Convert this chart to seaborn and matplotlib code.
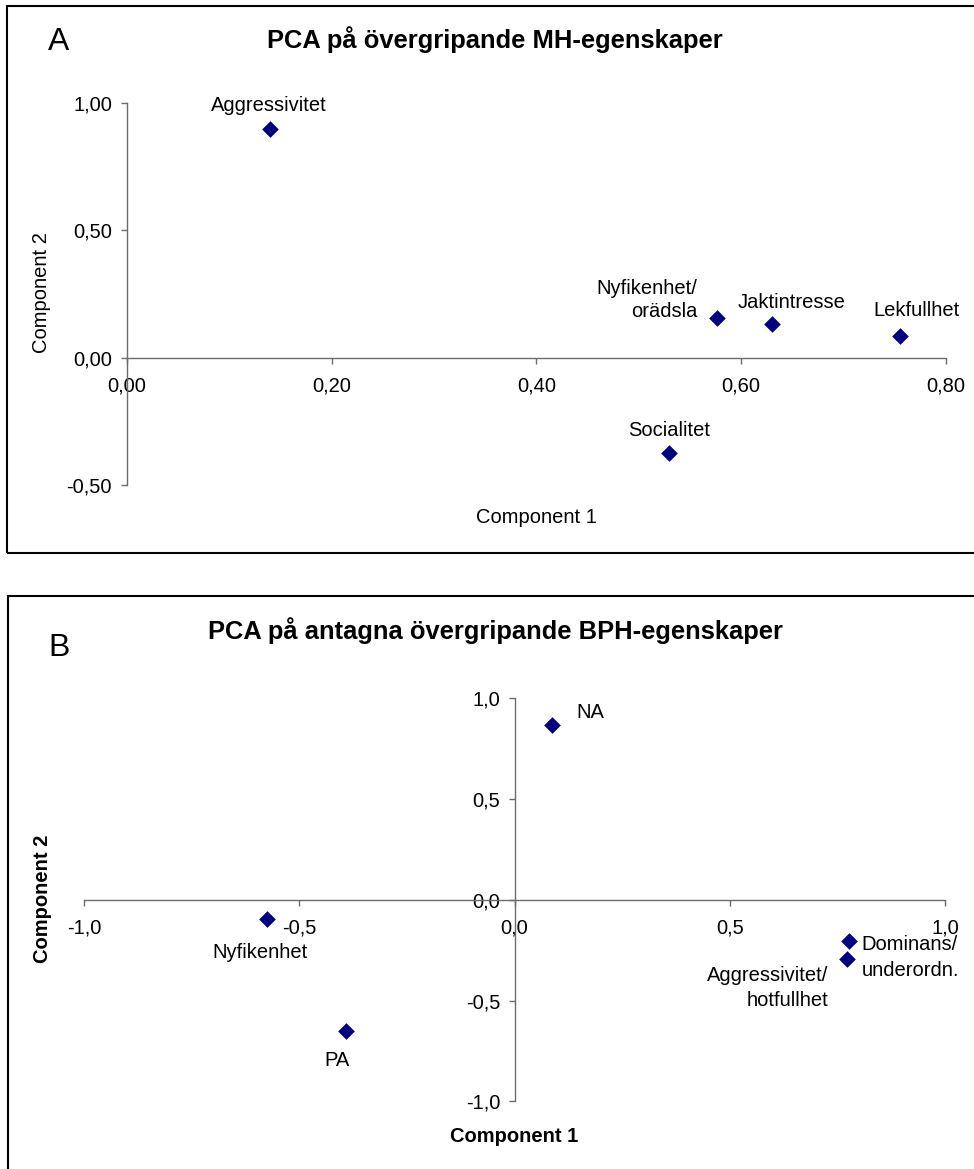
import matplotlib
matplotlib.use("Agg")
import matplotlib.pyplot as plt
import seaborn as sns
import pandas as pd
from matplotlib.patches import Rectangle

# ---------------- data ----------------
a_labels = ["Aggressivitet", "Nyfikenhet/\norädsla", "Jaktintresse", "Lekfullhet", "Socialitet"]
a_comp1 = [0.14, 0.576, 0.630, 0.755, 0.530]
a_comp2 = [0.897, 0.156, 0.131, 0.086, -0.374]

b_labels = ["NA", "Nyfikenhet", "PA", "Dominans/\nunderordn.", "Aggressivitet/\nhotfullhet"]
b_comp1 = [0.086, -0.575, -0.392, 0.776, 0.771]
b_comp2 = [0.867, -0.095, -0.651, -0.205, -0.291]

a_xticks = [0.0, 0.2, 0.4, 0.6, 0.8]
a_yticks = [-0.5, 0.0, 0.5, 1.0]
b_ticks = [-1.0, -0.5, 0.0, 0.5, 1.0]

sns.set_theme(style="white")
plt.rcParams['font.family'] = ['Liberation Sans', 'DejaVu Sans']
plt.rcParams['text.color'] = 'black'
plt.rcParams['axes.labelcolor'] = 'black'
plt.rcParams['xtick.color'] = 'black'
plt.rcParams['ytick.color'] = 'black'

W, H = 974, 1169
fig = plt.figure(figsize=(W / 100, H / 100), dpi=100)

AX_COL = '#6b6b6b'
MK_COL = '#000080'
FS = 14.5
TFS = 18.4


def fx(px):
    return px / W


def fy(py):
    return 1 - py / H


# frames
fig.patches.append(Rectangle((fx(7), fy(553)), fx(980 - 7), fy(6) - fy(553),
                             transform=fig.transFigure, fill=False, edgecolor='black', linewidth=1.5))
fig.patches.append(Rectangle((fx(8), fy(1180)), fx(980 - 8), fy(596) - fy(1180),
                             transform=fig.transFigure, fill=False, edgecolor='black', linewidth=1.5))


def style_axes(ax, fmt):
    for s in ['top', 'right']:
        ax.spines[s].set_visible(False)
    ax.spines['left'].set_position(('data', 0))
    ax.spines['bottom'].set_position(('data', 0))
    for s in ['left', 'bottom']:
        ax.spines[s].set_color(AX_COL)
        ax.spines[s].set_linewidth(1.0)
    ax.tick_params(axis='both', direction='out', length=4.5, width=1.0, color=AX_COL,
                   labelsize=FS, labelcolor='black')
    ax.tick_params(axis='x', pad=9, bottom=True)
    ax.tick_params(axis='y', pad=6, left=True)
    ax.xaxis.set_major_formatter(plt.FuncFormatter(lambda v, p: fmt.format(v).replace('.', ',')))
    ax.yaxis.set_major_formatter(plt.FuncFormatter(lambda v, p: fmt.format(v).replace('.', ',')))
    ax.set_xlabel('')
    ax.set_ylabel('')
    ax.set_facecolor('none')
    ax.grid(False)


# ---------------- Panel A ----------------
axA = fig.add_axes([fx(126.7), fy(485), fx(946 - 126.7), fy(103.2) - fy(485)])
dfA = pd.DataFrame({"c1": a_comp1, "c2": a_comp2, "lab": a_labels})
sns.scatterplot(data=dfA, x="c1", y="c2", marker='D', s=72, color=MK_COL,
                edgecolor=MK_COL, linewidth=0, ax=axA, legend=False, zorder=3, clip_on=False)
axA.set_xlim(0, 0.8)
axA.set_ylim(-0.5, 1.0)
axA.set_xticks(a_xticks)
axA.set_yticks(a_yticks)
style_axes(axA, "{:.2f}")

a_off = [(-1, 17, 'center'), (-14, 13, 'right'), (14, 16, 'center'), (12, 18, 'center'), (0, 16, 'center')]
for (x, y, lab), (dx, dy, ha) in zip(zip(a_comp1, a_comp2, a_labels), a_off):
    axA.annotate(lab, (x, y), xytext=(dx, dy), textcoords='offset points', ha=ha, va='center',
                 fontsize=FS, multialignment=ha, linespacing=1.3, color='black')

axA.text(0.5, -0.084, "Component 1", transform=axA.transAxes, ha='center', va='center',
         fontsize=FS, color='black')
axA.text(-0.104, 0.503, "Component 2", transform=axA.transAxes, ha='center', va='center',
         fontsize=FS, rotation=90, color='black')
fig.text(fx(495), fy(40), "PCA på övergripande MH-egenskaper", ha='center', va='center',
         fontsize=TFS, fontweight='bold', color='black')
fig.text(fx(48), fy(42), "A", ha='left', va='center', fontsize=23, color='black')

# ---------------- Panel B ----------------
axB = fig.add_axes([fx(83.9), fy(1101.4), fx(945.3 - 83.9), fy(698.3) - fy(1101.4)])
dfB = pd.DataFrame({"c1": b_comp1, "c2": b_comp2, "lab": b_labels})
sns.scatterplot(data=dfB, x="c1", y="c2", marker='D', s=72, color=MK_COL,
                edgecolor=MK_COL, linewidth=0, ax=axB, legend=False, zorder=3, clip_on=False)
axB.set_xlim(-1.0, 1.0)
axB.set_ylim(-1.0, 1.0)
axB.set_xticks(b_ticks)
axB.set_yticks(b_ticks)
style_axes(axB, "{:.1f}")

b_off = [(18, 9, 'left'), (-5, -24, 'center'), (-6, -21, 'center'), (9, -12, 'left'), (-13, -21, 'right')]
b_ls = [1.2, 1.2, 1.2, 1.45, 1.38]
for (x, y, lab), (dx, dy, ha), ls in zip(zip(b_comp1, b_comp2, b_labels), b_off, b_ls):
    axB.annotate(lab, (x, y), xytext=(dx, dy), textcoords='offset points', ha=ha, va='center',
                 fontsize=FS, multialignment=ha, linespacing=ls, color='black')

axB.text(0.5, -0.086, "Component 1", transform=axB.transAxes, ha='center', va='center',
         fontsize=FS, fontweight='bold', color='black')
axB.text(-0.0486, 0.502, "Component 2", transform=axB.transAxes, ha='center', va='center',
         fontsize=FS, fontweight='bold', rotation=90, color='black')
fig.text(fx(495), fy(631), "PCA på antagna övergripande BPH-egenskaper", ha='center', va='center',
         fontsize=TFS, fontweight='bold', color='black')
fig.text(fx(48), fy(648), "B", ha='left', va='center', fontsize=23, color='black')

fig.savefig("out.png", dpi=100)
